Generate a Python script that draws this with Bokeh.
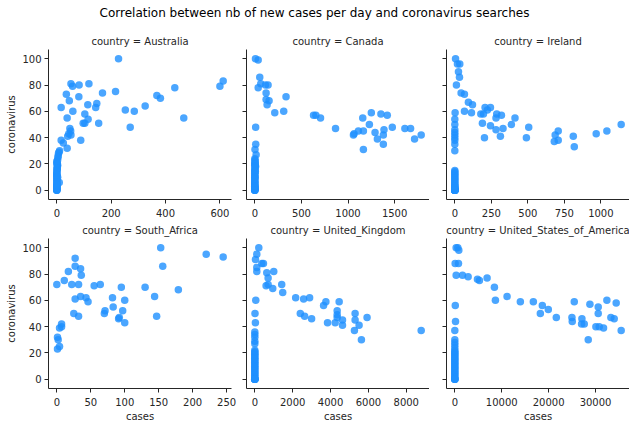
from bokeh.plotting import figure
from bokeh.models import Div, FixedTicker, Range1d, CustomJSTickFormatter
from bokeh.layouts import column, row
from bokeh.embed import file_html
from bokeh.resources import INLINE

# --- data (new cases per day vs. search interest) ---
aus_cases = [227, 52, 58, 82, 118, 35, 216, 168, 368, 381, 434, 600, 612, 81, 46, 114, 147, 143, 16, 59,
             252, 285, 325, 103, 38, 115, 97, 103, 154, 467, 270, 48, 51, 44, 52, 40, 88, 16, 24, 38,
             10, 8, 6, 5, 4, 3, 9,
             0, 0, 0, 0, 0, 0, 0, 0, 0, 0, 0, 0, 0, 0, 0, 0, 0, 0, 0, 0, 0, 1, 1, 2, 2, 3, 1, 0, 0, 2, 1, 0, 3, 2]
aus_search = [100, 81, 79, 80, 81, 73, 75, 74, 72, 70, 78, 79, 83, 71, 68, 65, 66, 63, 63, 60,
              61, 60, 64, 58, 55, 54, 51, 51, 51, 55, 48, 47, 45, 43, 42, 41, 38, 38, 36, 32,
              30, 29, 28, 26, 25, 23, 6,
              0, 0, 0, 1, 1, 1, 2, 2, 3, 3, 4, 5, 6, 7, 8, 9, 10, 11, 12, 13, 14, 15, 16, 17, 18, 19, 20, 21, 22, 20, 17, 12, 10, 4]

can_cases = [7, 36, 53, 64, 36, 114, 142, 121, 121, 153, 132, 214, 310, 335, 630, 655, 705, 866, 1058, 1065,
             1111, 1165, 1158, 1165, 1229, 1250, 1290, 1315, 1353, 1421, 1379, 1386, 1379, 1475, 1610, 1671, 1714, 1785,
             9, 10, 2, 14,
             0, 0, 0, 0, 0, 0, 0, 0, 0, 0, 0, 0, 0, 0, 0, 0, 0, 0, 0, 0, 0, 0, 0, 1, 2, 4, 0, 0, 1, 3, 2, 0, 5, 8, 6, 3, 0, 1]
can_search = [100, 99, 86, 81, 78, 80, 80, 74, 69, 68, 65, 59, 60, 71, 57, 57, 55, 47, 42, 43,
              45, 45, 55, 31, 50, 59, 44, 39, 58, 57, 42, 46, 35, 48, 47, 47, 39, 42,
              48, 35, 31, 27,
              0, 0, 0, 0, 1, 1, 1, 2, 2, 3, 3, 4, 5, 6, 7, 8, 9, 10, 11, 12, 13, 14, 15, 16, 17, 18, 19, 20, 21, 22, 23, 24, 20, 18, 14, 10, 6, 3]

ire_cases = [5, 18, 34, 25, 32, 11, 43, 66, 93, 121, 66, 114, 207, 244, 223, 196, 178, 287, 319, 282,
             412, 387, 506, 189, 244, 282, 330, 312, 203, 490, 681, 687, 708, 708, 811, 818, 968, 1041, 1139,
             2, 0, 0, 0, 0, 0, 0, 0, 0,
             0, 0, 0, 0, 0, 0, 0, 0, 0, 0, 0, 0, 0, 0, 0, 0, 0, 0, 0, 0, 0, 0, 0, 0, 0, 0, 0, 0, 0]
ire_search = [100, 96, 96, 90, 86, 80, 74, 73, 67, 65, 60, 59, 63, 63, 61, 58, 58, 58, 57, 55,
              55, 50, 48, 51, 49, 46, 47, 41, 40, 40, 37, 42, 45, 38, 41, 33, 43, 45, 50,
              59, 54, 50, 46, 44, 42, 40, 38, 35,
              30, 15, 14, 13, 12, 11, 10, 9, 8, 7, 6, 5, 4, 3, 2, 1, 1, 0, 0, 0, 0, 0, 0, 0, 0, 0, 1, 2, 3]

saf_cases = [0, 2, 1, 1, 4, 4, 7, 7, 11, 17, 22, 27, 27, 35, 36, 32, 27, 35, 25, 32,
             43, 46, 55, 64, 70, 71, 82, 83, 91, 92, 95, 97, 100, 100, 130, 144, 147, 153, 156, 179,
             220, 245]
saf_search = [72, 30, 32, 23, 25, 39, 40, 42, 75, 82, 72, 92, 86, 84, 79, 72, 61, 63, 50, 48,
              62, 59, 71, 72, 50, 52, 62, 55, 46, 47, 70, 52, 60, 43, 70, 63, 48, 100, 86, 68,
              95, 93]

gbr_cases = [210, 105, 35, 368, 456, 105, 105, 632, 1000, 702, 702, 596, 947, 1421, 1474, 2158, 2579, 2895, 2404, 2632,
             3000, 3632, 3754, 3842, 4456, 4351, 4351, 4351, 4246, 4632, 4632, 5298, 5298, 5509, 5263, 5632, 5930, 8789,
             50, 10, 30, 0, 0, 0, 0, 0,
             0, 0, 0, 0, 0, 0, 0, 0, 0, 0, 0, 0, 0, 0, 0, 0, 0, 0, 0, 0, 0, 0, 0, 0, 0, 0, 0, 0]
gbr_search = [100, 95, 91, 88, 88, 85, 82, 81, 82, 77, 72, 71, 69, 72, 66, 62, 61, 62, 50, 48,
              46, 56, 59, 43, 59, 52, 49, 47, 43, 45, 41, 50, 45, 41, 37, 30, 47, 37,
              60, 50, 43, 36, 34, 32, 29, 27,
              22, 21, 20, 19, 18, 17, 16, 15, 14, 13, 12, 11, 10, 9, 8, 7, 6, 5, 4, 3, 2, 1, 0, 0, 0, 0, 0, 0]

usa_cases = [284, 638, 851, 71, 780, 284, 1631, 2837, 4823, 5248, 6879, 8440, 8652, 11135, 13972, 16738, 18227, 18652, 19929, 21631,
             24965, 25035, 25461, 27092, 27021, 27589, 28440, 28794, 30071, 30567, 30567, 30780, 31702, 32411, 33262, 33972, 34397, 35461,
             100, 150, 0, 0, 0, 0, 0, 0,
             0, 0, 0, 0, 0, 0, 0, 0, 0, 0, 0, 0, 0, 0, 0, 0, 0, 0, 0, 0, 0, 0, 0, 0, 0, 0, 0]
usa_search = [100, 100, 98, 88, 88, 79, 79, 78, 76, 75, 77, 70, 60, 63, 59, 59, 50, 56, 53, 47,
              47, 44, 59, 46, 42, 42, 30, 57, 40, 55, 50, 40, 39, 60, 47, 46, 58, 37,
              56, 44, 37, 30, 28, 26, 24, 22,
              21, 20, 19, 18, 17, 16, 15, 14, 13, 12, 11, 10, 9, 8, 7, 6, 5, 4, 3, 2, 1, 0, 0, 0, 0]

aus_ticks = [0, 200, 400, 600]
can_ticks = [0, 500, 1000, 1500]
ire_ticks = [0, 250, 500, 750, 1000]
saf_ticks = [0, 50, 100, 150, 200, 250]
gbr_ticks = [0, 2000, 4000, 6000, 8000]
usa_ticks = [0, 10000, 20000, 30000]
y_ticks = [0, 20, 40, 60, 80, 100]

FONT = "DejaVu Sans"
INK = "#262626"


def panel(name, cases, search, xticks, width, height, left, right, top, bottom, first_col, last_row):
    lo, hi = min(cases), max(cases)
    pad = 0.05 * (hi - lo)
    p = figure(width=width, height=height, output_backend="svg", toolbar_location=None,
               x_range=Range1d(lo - pad, hi + pad), y_range=Range1d(-7, 107),
               min_border_left=left, min_border_right=right,
               min_border_top=top, min_border_bottom=bottom,
               title="country = " + name)
    p.scatter(cases, search, size=7.5, fill_color="#1E90FF", fill_alpha=0.8, line_color=None)

    p.title.text_font = FONT
    p.title.text_font_size = "10px"
    p.title.text_font_style = "normal"
    p.title.text_color = INK
    p.title.align = "center"
    p.title.standoff = 6

    p.outline_line_color = None
    p.grid.visible = False

    for ax in (p.xaxis[0], p.yaxis[0]):
        ax.axis_line_color = INK
        ax.major_tick_line_color = INK
        ax.major_tick_out = 4
        ax.major_tick_in = 0
        ax.minor_tick_line_color = None
        ax.major_label_text_font = FONT
        ax.major_label_text_font_size = "10px"
        ax.major_label_text_color = INK
        ax.axis_label_text_font = FONT
        ax.axis_label_text_font_size = "10px"
        ax.axis_label_text_font_style = "normal"
        ax.axis_label_text_color = INK
    p.xaxis.major_label_standoff = 5
    p.xaxis.axis_label_standoff = 2
    p.yaxis.major_label_standoff = 3
    p.yaxis.axis_label_standoff = 2

    p.xaxis.ticker = FixedTicker(ticks=xticks)
    p.yaxis.ticker = FixedTicker(ticks=y_ticks)

    if first_col:
        p.yaxis.axis_label = "coronavirus"
    else:
        # shared y axis: ticks only, no labels
        p.yaxis.formatter = CustomJSTickFormatter(code="return ''")
        p.yaxis.major_label_standoff = 0
    if last_row:
        p.xaxis.axis_label = "cases"
    return p


f1 = panel("Australia", aus_cases, aus_search, aus_ticks, 237, 193, 48, 6, 23, 20, True, False)
f2 = panel("Canada", can_cases, can_search, can_ticks, 192, 193, 9, 0, 23, 20, False, False)
f3 = panel("Ireland", ire_cases, ire_search, ire_ticks, 200, 193, 17, 0, 23, 20, False, False)
f4 = panel("South_Africa", saf_cases, saf_search, saf_ticks, 237, 206, 48, 6, 19, 37, True, True)
f5 = panel("United_Kingdom", gbr_cases, gbr_search, gbr_ticks, 192, 206, 9, 0, 19, 37, False, True)
f6 = panel("United_States_of_America", usa_cases, usa_search, usa_ticks, 200, 206, 17, 0, 19, 37, False, True)

title = Div(text="Correlation between nb of new cases per day and coronavirus searches",
            width=629, height=26, margin=0,
            styles={"text-align": "center", "font-family": "DejaVu Sans",
                    "font-size": "12px", "color": "#000000", "line-height": "26px"})

p = column(title, row(f1, f2, f3), row(f4, f5, f6))

open("out.html", "w").write(file_html(p, INLINE))
